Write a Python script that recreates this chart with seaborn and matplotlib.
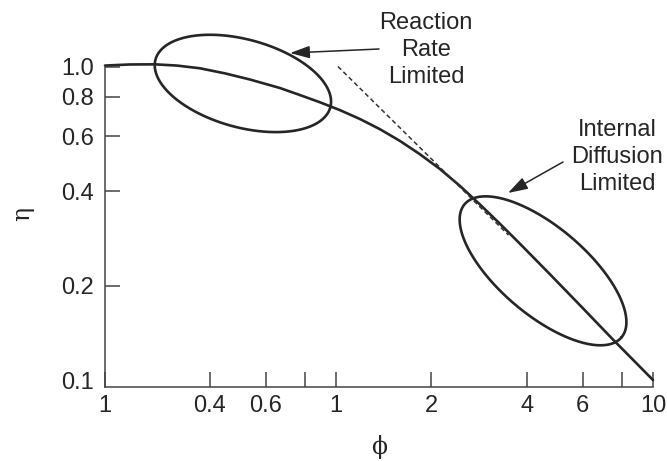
import numpy as np
import matplotlib
matplotlib.use("Agg")
from matplotlib import pyplot as plt
import seaborn as sns

# effectiveness factor curve
phi = [0.187, 0.224, 0.2685, 0.315, 0.3724, 0.4465, 0.5355, 0.6657, 0.7698, 0.8902,
       1.0295, 1.1905, 1.3766, 1.5918, 1.8408, 2.1286, 2.4614, 2.8464, 3.2914, 3.8058,
       4.6317, 5.8858, 7.4791, 10]
eta = [1.007, 1.015, 1.016, 1.007, 0.987, 0.951, 0.909, 0.854, 0.811, 0.769,
       0.726, 0.680, 0.631, 0.579, 0.525, 0.471, 0.416, 0.363, 0.315, 0.272,
       0.2223, 0.1732, 0.1346, 0.1]

# asymptote (dashed)
dash_phi = [1.015, 3.5]
dash_eta = [1.0, 0.29]

# ellipses: centre (phi, eta), semi-axes in decades, tilt in degrees
ell_phi = [0.509, 4.50]
ell_eta = [0.883, 0.223]
ell_a = [0.286, 0.326]
ell_b = [0.140, 0.139]
ell_tilt = [-15.6, -40.8]

x_ticks = [0.187, 0.4, 0.6, 0.8, 1, 2, 4, 6, 8, 10]
x_labels = ["1", "0.4", "0.6", "", "1", "2", "4", "6", "", "10"]
y_ticks = [0.1, 0.2, 0.4, 0.6, 0.8, 1.0]
y_labels = ["0.1", "0.2", "0.4", "0.6", "0.8", "1.0"]

sns.set_style("ticks")
plt.rcParams["font.family"] = ["Liberation Sans", "DejaVu Sans"]
ink = "#262626"

fig = plt.figure(figsize=(6.67, 4.61), dpi=100)
ax = fig.add_axes([105 / 667, 1 - 387 / 461, 548 / 667, 320.5 / 461])
ax.set_xscale("log")
ax.set_yscale("log")

sns.lineplot(x=phi, y=eta, ax=ax, sort=False, estimator=None, color=ink, lw=1.9, clip_on=False)
sns.lineplot(x=dash_phi, y=dash_eta, ax=ax, sort=False, estimator=None, color="#333333",
             lw=1.1, linestyle=(0, (3, 2)), clip_on=False)

t = np.linspace(0, 2 * np.pi, 300)
for cp, ce, a, b, ang in zip(ell_phi, ell_eta, ell_a, ell_b, ell_tilt):
    th = np.radians(ang)
    lx = np.log10(cp) + a * np.cos(t) * np.cos(th) - b * np.sin(t) * np.sin(th)
    ly = np.log10(ce) + a * np.cos(t) * np.sin(th) + b * np.sin(t) * np.cos(th)
    ax.plot(10 ** lx, 10 ** ly, color=ink, lw=1.9, clip_on=False)

ax.set_xlim(0.187, 10)
ax.set_ylim(0.095, 1.0)
ax.minorticks_off()
ax.set_xticks(x_ticks)
ax.set_xticklabels(x_labels)
ax.set_yticks(y_ticks)
ax.set_yticklabels(y_labels)
ax.tick_params(axis="both", direction="in", length=11, width=1.1, color="#444444",
               labelsize=17, labelcolor=ink)
ax.tick_params(axis="x", pad=6)
ax.tick_params(axis="y", pad=8)
ax.yaxis.get_major_ticks()[0].tick1line.set_visible(False)

sns.despine(ax=ax)
for s in ["left", "bottom"]:
    ax.spines[s].set_linewidth(1.1)
    ax.spines[s].set_color("#444444")

ax.set_xlabel("\u03d5", fontsize=17, family=["DejaVu Serif"], color=ink, va="center")
ax.xaxis.set_label_coords(0.5, -0.188)
ax.set_ylabel("\u03b7", fontsize=17, family=["DejaVu Serif"], color=ink, va="center")
ax.yaxis.set_label_coords(-0.150, 0.54)

fig.text(426 / 667, 1 - 50 / 461, "Reaction\nRate\nLimited", ha="center", va="center",
         fontsize=17, color=ink, linespacing=1.32)
fig.text(617 / 667, 1 - 157 / 461, "Internal\nDiffusion\nLimited", ha="center", va="center",
         fontsize=17, color=ink, linespacing=1.32)

arrow = dict(arrowstyle="-|>,head_length=0.6,head_width=0.19", color=ink, lw=1.1,
             mutation_scale=20, shrinkA=0, shrinkB=0)
ax.annotate("", xy=(290 / 667, 1 - 53 / 461), xytext=(379 / 667, 1 - 49 / 461),
            xycoords="figure fraction", textcoords="figure fraction", arrowprops=arrow)
ax.annotate("", xy=(508 / 667, 1 - 193 / 461), xytext=(563 / 667, 1 - 162 / 461),
            xycoords="figure fraction", textcoords="figure fraction", arrowprops=arrow)

fig.savefig("out.png", dpi=100)
